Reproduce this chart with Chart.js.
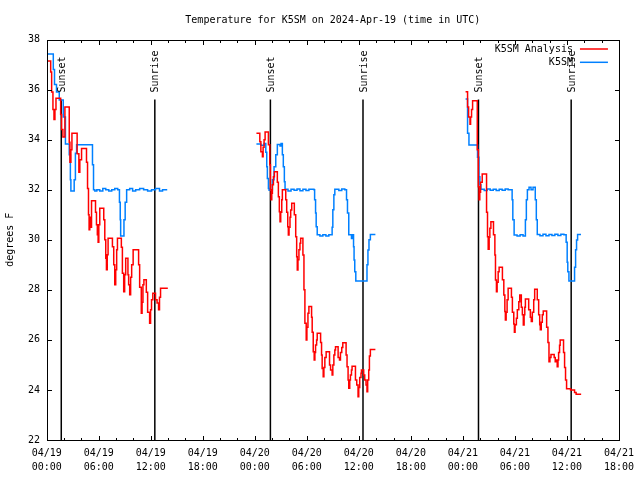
<!DOCTYPE html>
<html lang="en">
<head>
<meta charset="UTF-8">
<title>Temperature for K5SM</title>
<script src="https://cdn.jsdelivr.net/npm/chart.js"></script>
<style>
  html, body { margin: 0; padding: 0; background: #fff; }
  canvas { display: block; }
</style>
</head>
<body>
<canvas id="tempChart" width="640" height="480"></canvas>
<script>
// times are hours since 04/19 00:00 UTC, temperatures in degrees F
const analysisHours1 = [0.11,0.46,0.57,0.72,0.84,0.95,1.07,1.61,1.72,1.87,2.10,2.60,2.68,2.79,2.91,3.51,3.71,3.82,4.02,4.59,4.71,4.82,4.89,4.97,5.09,5.17,5.63,5.74,5.84,5.93,6.01,6.12,6.58,6.70,6.81,6.89,6.98,7.08,7.58,7.73,7.85,7.96,8.07,8.16,8.61,8.73,8.88,8.99,9.11,9.37,9.45,9.57,9.68,9.80,9.97,10.60,10.72,10.91,11.00,11.10,11.21,11.49,11.64,11.87,11.98,12.09,12.24,12.55,12.73,12.90,13.01,13.13,13.97];
const analysisTemps1 = [37.14,36.7,35.9,35.2,34.8,35.2,35.65,35.0,34.4,34.1,35.3,33.9,33.1,33.6,34.25,33.44,32.7,33.2,33.65,33.1,32.05,31.0,30.4,30.9,30.5,31.56,31.1,30.6,30.2,29.9,30.6,31.26,30.8,30.0,29.26,28.8,29.4,30.06,29.72,29.0,28.2,28.8,29.6,30.06,29.7,28.66,27.92,28.6,29.26,28.6,28.2,27.8,28.5,29.0,29.6,29.0,28.1,27.06,27.5,28.2,28.4,27.9,27.1,26.66,27.2,27.6,27.86,27.6,27.47,27.2,27.7,28.06,28.06];

const analysisHours2 = [24.19,24.58,24.70,24.88,24.96,25.07,25.19,25.57,25.73,25.80,25.88,25.96,26.03,26.15,26.26,26.60,26.72,26.83,26.91,26.99,27.11,27.18,27.57,27.68,27.80,27.87,27.95,28.06,28.14,28.26,28.56,28.72,28.83,28.90,28.98,29.09,29.21,29.29,29.55,29.67,29.78,29.93,30.01,30.13,30.24,30.55,30.62,30.74,30.85,30.93,31.01,31.13,31.20,31.59,31.70,31.77,31.89,31.97,32.08,32.23,32.62,32.74,32.92,33.00,33.12,33.23,33.31,33.61,33.77,33.88,34.03,34.15,34.53,34.64,34.76,34.84,34.95,35.03,35.15,35.22,35.61,35.76,35.91,35.99,36.10,36.25,36.30,36.56,36.68,36.83,36.94,37.02,37.14,37.22,37.33,37.91];
const analysisTemps2 = [34.25,33.92,33.52,33.32,33.7,34.0,34.3,33.8,33.0,32.0,31.6,31.86,32.2,32.52,32.72,32.3,31.72,31.12,30.72,31.1,31.6,32.0,31.6,31.1,30.52,30.19,30.5,30.9,31.19,31.46,31.0,30.12,29.32,28.79,29.2,29.6,29.86,30.06,29.39,28.0,26.66,26.0,26.5,27.06,27.33,26.9,26.3,25.53,25.2,25.5,25.8,26.0,26.26,25.9,25.4,24.86,24.53,24.9,25.3,25.53,25.0,24.8,24.6,25.0,25.4,25.6,25.73,25.3,25.2,25.5,25.7,25.89,25.4,24.93,24.4,24.07,24.4,24.6,24.8,24.95,24.4,24.2,23.73,24.1,24.5,24.67,24.8,24.6,24.4,24.2,23.93,24.4,24.8,25.36,25.62,25.62];

const analysisHours3 = [48.31,48.54,48.66,48.82,48.89,49.00,49.12,49.66,49.78,49.86,49.95,50.04,50.23,50.73,50.84,50.92,51.03,51.11,51.23,51.53,51.69,51.76,51.87,51.95,52.07,52.18,52.56,52.72,52.84,52.90,52.99,53.10,53.22,53.60,53.71,53.87,53.94,54.02,54.17,54.28,54.45,54.56,54.74,54.86,54.97,55.06,55.14,55.21,55.59,55.78,55.89,56.01,56.17,56.28,56.58,56.74,56.86,56.93,57.04,57.16,57.27,57.66,57.81,57.93,58.04,58.16,58.53,58.65,58.77,58.88,58.97,59.04,59.15,59.22,59.61,59.73,59.84,59.96,60.42,60.88,61.06,61.64];
const analysisTemps3 = [35.91,35.3,34.9,34.61,34.9,35.2,35.55,33.6,32.12,31.6,31.9,32.3,32.63,31.1,30.12,29.62,30.1,30.46,30.72,30.2,29.39,28.39,27.92,28.3,28.72,28.9,28.4,27.79,27.13,26.79,27.1,27.6,28.06,27.7,27.1,26.63,26.3,26.6,26.86,27.2,27.52,27.79,27.3,27.0,26.59,27.0,27.3,27.63,27.2,26.9,26.73,27.1,27.6,28.02,27.6,27.0,26.6,26.4,26.7,27.0,27.15,26.5,25.9,25.13,25.3,25.42,25.3,25.13,25.2,24.93,25.2,25.5,25.79,26.0,25.5,24.9,24.4,24.05,24.0,23.9,23.83,23.83];

const stationHours1 = [0.07,0.76,0.90,1.13,1.45,1.91,2.16,2.60,2.73,2.79,3.17,3.31,3.45,5.28,5.40,5.55,5.78,6.12,6.47,6.81,7.16,7.50,7.85,8.19,8.39,8.48,8.53,8.91,9.05,9.22,9.57,9.91,10.26,10.72,11.18,11.64,12.09,12.55,13.01,13.36,13.90];
const stationTemps1 = [37.42,36.8,36.2,35.9,35.58,34.9,33.83,33.4,32.4,31.95,32.4,33.46,33.8,33.0,32.0,31.95,32.0,31.95,32.05,32.0,31.95,32.0,32.05,32.0,31.5,30.8,30.15,30.8,31.5,32.0,32.05,31.95,32.0,32.05,32.0,31.95,32.0,32.05,31.95,32.0,32.0];

const stationHours2 = [24.19,24.70,25.07,25.27,25.38,25.45,25.57,25.65,25.96,26.03,26.22,26.42,26.60,26.91,27.03,27.18,27.29,27.41,27.49,27.83,28.18,28.53,28.87,29.21,29.55,29.90,30.24,30.82,30.90,31.01,31.08,31.20,31.51,31.85,32.20,32.54,32.92,33.00,33.12,33.23,33.69,34.03,34.38,34.58,34.69,34.84,35.15,35.22,35.39,35.45,35.53,35.65,36.94,37.05,37.17,37.33,37.91];
const stationTemps2 = [33.83,33.78,33.85,33.5,32.92,32.45,32.05,31.98,32.0,32.4,32.92,33.4,33.81,33.75,33.85,33.4,32.92,32.32,32.02,31.95,32.02,31.98,32.03,31.96,32.02,31.97,32.02,32.0,31.6,31.07,30.52,30.2,30.15,30.2,30.15,30.2,30.5,31.2,31.8,32.02,31.97,32.03,32.0,31.6,31.07,30.2,30.05,30.2,29.72,29.19,28.72,28.35,29.0,29.59,30.0,30.21,30.21];

const stationHours3 = [48.31,48.54,48.70,49.69,49.85,49.96,50.08,50.46,50.80,51.15,51.50,51.84,52.19,52.53,52.88,53.22,53.68,53.76,53.91,54.25,54.60,54.94,55.21,55.32,55.44,55.63,55.86,56.09,56.35,56.47,56.58,56.89,57.24,57.58,57.93,58.27,58.61,58.96,59.30,59.65,59.91,60.03,60.10,60.23,60.88,61.00,61.11,61.23,61.62];
const stationTemps3 = [35.62,34.25,33.79,33.3,32.52,32.2,32.02,31.97,32.03,31.98,32.02,31.97,32.02,31.98,32.03,32.0,31.6,30.8,30.19,30.15,30.2,30.15,30.8,31.6,32.0,32.1,32.0,32.1,31.6,30.8,30.21,30.16,30.22,30.16,30.21,30.17,30.22,30.17,30.22,30.2,29.9,29.1,28.72,28.35,28.9,29.6,29.99,30.21,30.21];

const sunsetHours  = [1.68, 25.80, 49.80];
const sunriseHours = [12.47, 36.48, 60.49];

const FONT = '"DejaVu Sans Mono", "Liberation Mono", monospace';

// one point list per series, a null point breaks the line between days
function joinDays(hourLists, tempLists) {
    const points = [];
    hourLists.forEach((hours, d) => {
        if (d > 0) points.push({ x: hours[0] - 0.05, y: null });
        hours.forEach((h, i) => points.push({ x: h, y: tempLists[d][i] }));
    });
    return points;
}

// gnuplot look: closed box, inward tics on all sides, sun lines, legend
const gnuplotFrame = {
    id: 'gnuplotFrame',
    beforeDatasetsDraw(chart) {
        const { ctx, chartArea: a, scales: { x } } = chart;
        ctx.save();
        ctx.strokeStyle = '#000';
        ctx.lineWidth = 1.5;
        sunsetHours.concat(sunriseHours).forEach(h => {
            const px = x.getPixelForValue(h);
            ctx.beginPath();
            ctx.moveTo(px, a.bottom);
            ctx.lineTo(px, a.top + 60);
            ctx.stroke();
        });
        ctx.restore();
    },
    afterDatasetsDraw(chart) {
        const { ctx, chartArea: a, scales: { x, y } } = chart;
        const L = Math.round(a.left) + 0.5, R = Math.round(a.right) + 0.5;
        const T = Math.round(a.top) + 0.5, B = Math.round(a.bottom) + 0.5;
        ctx.save();
        ctx.strokeStyle = '#000';
        ctx.lineWidth = 1;
        ctx.strokeRect(L, T, R - L, B - T);

        ctx.beginPath();
        for (let h = x.min; h <= x.max; h += 2) {
            const px = Math.round(x.getPixelForValue(h)) + 0.5;
            const len = h % 6 === 0 ? 4.5 : 2.5;
            ctx.moveTo(px, B); ctx.lineTo(px, B - len);
            ctx.moveTo(px, T); ctx.lineTo(px, T + len);
        }
        for (let t = y.min; t <= y.max; t += 2) {
            const py = Math.round(y.getPixelForValue(t)) + 0.5;
            ctx.moveTo(L, py); ctx.lineTo(L + 4.5, py);
            ctx.moveTo(R, py); ctx.lineTo(R - 4.5, py);
        }
        ctx.stroke();

        ctx.fillStyle = '#000';
        ctx.font = '10px ' + FONT;
        ctx.textAlign = 'left';
        ctx.textBaseline = 'middle';
        const sunLabels = sunsetHours.map(h => [h, 'Sunset'])
            .concat(sunriseHours.map(h => [h, 'Sunrise']));
        sunLabels.forEach(([h, txt]) => {
            ctx.save();
            ctx.translate(x.getPixelForValue(h) + 1, a.top + 53);
            ctx.rotate(-Math.PI / 2);
            ctx.fillText(txt, 0, 0);
            ctx.restore();
        });

        chart.data.datasets.forEach((ds, i) => {
            const ly = a.top + 9.5 + i * 13.3;
            ctx.textAlign = 'right';
            ctx.fillStyle = '#000';
            ctx.fillText(ds.label, a.right - 46, ly);
            ctx.strokeStyle = ds.borderColor;
            ctx.lineWidth = 1.5;
            ctx.beginPath();
            ctx.moveTo(a.right - 39, ly);
            ctx.lineTo(a.right - 11, ly);
            ctx.stroke();
        });
        ctx.restore();
    }
};

new Chart(document.getElementById('tempChart'), {
    type: 'line',
    data: {
        datasets: [{
            label: 'K5SM Analysis',
            data: joinDays([analysisHours1, analysisHours2, analysisHours3],
                           [analysisTemps1, analysisTemps2, analysisTemps3]),
            borderColor: '#ff0000',
            borderWidth: 1.5,
            stepped: true,
            pointRadius: 0,
            spanGaps: false
        }, {
            label: 'K5SM',
            data: joinDays([stationHours1, stationHours2, stationHours3],
                           [stationTemps1, stationTemps2, stationTemps3]),
            borderColor: '#0080ff',
            borderWidth: 1.5,
            stepped: true,
            pointRadius: 0,
            spanGaps: false
        }]
    },
    plugins: [gnuplotFrame],
    options: {
        responsive: false,
        animation: false,
        layout: { padding: { right: 18.7 } },
        plugins: {
            legend: { display: false },
            tooltip: { enabled: false },
            title: {
                display: true,
                fullSize: false,
                text: 'Temperature for K5SM on 2024-Apr-19 (time in UTC)',
                color: '#000',
                font: { family: FONT, size: 10, weight: 'normal' },
                padding: { top: 14, bottom: 13.5 }
            }
        },
        scales: {
            x: {
                type: 'linear',
                min: 0,
                max: 66,
                grid: { display: false, drawTicks: false },
                border: { display: false },
                ticks: {
                    stepSize: 6,
                    autoSkip: false,
                    maxRotation: 0,
                    padding: 6,
                    color: '#000',
                    font: { family: FONT, size: 10, lineHeight: 1.45 },
                    callback: v => ['04/' + (19 + Math.floor(v / 24)),
                                    String(v % 24).padStart(2, '0') + ':00']
                },
                afterFit: s => { s.height = 40; }
            },
            y: {
                min: 22,
                max: 38,
                grid: { display: false, drawTicks: false },
                border: { display: false },
                ticks: {
                    stepSize: 2,
                    padding: 6.7,
                    color: '#000',
                    font: { family: FONT, size: 10 }
                },
                title: {
                    display: true,
                    text: 'degrees F',
                    color: '#000',
                    font: { family: FONT, size: 10 },
                    padding: { top: 4, bottom: 4 }
                },
                afterFit: s => { s.width = 46.7; }
            }
        }
    }
});
</script>
</body>
</html>
